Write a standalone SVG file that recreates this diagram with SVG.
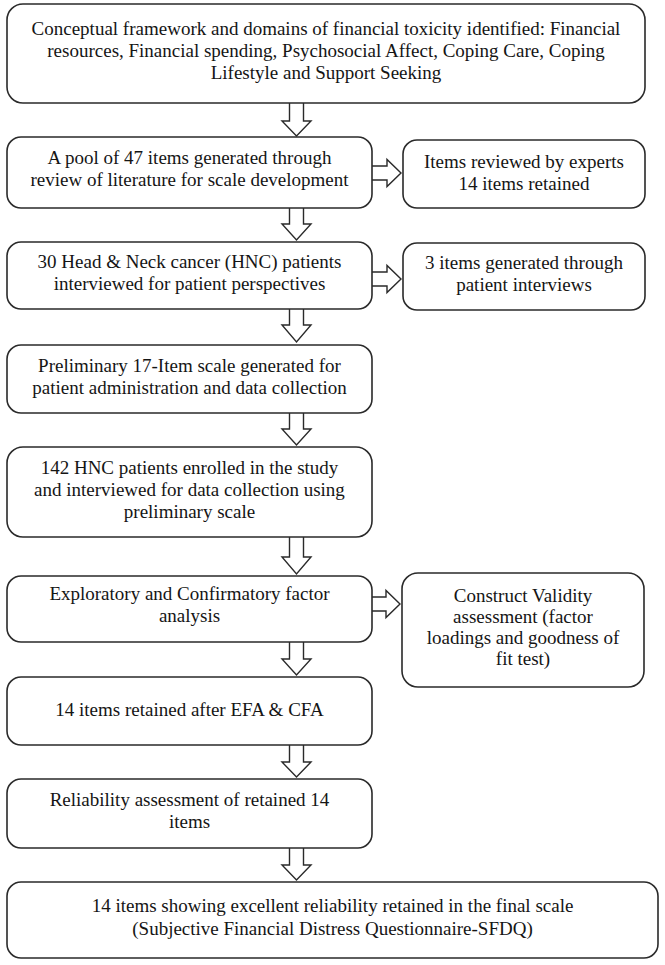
<svg xmlns="http://www.w3.org/2000/svg" width="665" height="965" viewBox="0 0 665 965">
<style>
.box{fill:#fff;stroke:#2a2a2a;stroke-width:1.6}
.arr{fill:#fff;stroke:#2a2a2a;stroke-width:1.4;stroke-linejoin:miter}
text{font-family:"Liberation Serif","Times New Roman",serif;font-size:19px;fill:#151515;text-anchor:middle}
</style>
<rect width="665" height="965" fill="#fff"/>
<g id="connectors">
<path class="arr" d="M289.5,103 V121 H282 L296.5,136 L311,121 H303.5 V103"/>
<path class="arr" d="M372,166 H387 V159.5 L401,173 L387,186.5 V180 H372"/>
<path class="arr" d="M289.5,208 V224 H282 L296.5,240 L311,224 H303.5 V208"/>
<path class="arr" d="M372,272 H387 V265.5 L401,279 L387,292.5 V286 H372"/>
<path class="arr" d="M289.5,309 V325 H282 L296.5,342 L311,325 H303.5 V309"/>
<path class="arr" d="M289.5,413 V429 H282 L296.5,445 L311,429 H303.5 V413"/>
<path class="arr" d="M289.5,537 V557 H282 L296.5,574 L311,557 H303.5 V537"/>
<path class="arr" d="M372,597 H386 V590.5 L400,604 L386,617.5 V611 H372"/>
<path class="arr" d="M289.5,642 V659 H282 L296.5,675 L311,659 H303.5 V642"/>
<path class="arr" d="M289.5,745 V762 H282 L296.5,777 L311,762 H303.5 V745"/>
<path class="arr" d="M289.5,848 V865 H282 L296.5,880 L311,865 H303.5 V848"/>
</g>
<g id="n1">
<rect class="box" x="7" y="4" width="638" height="99" rx="16"/>
<text x="326" y="35">Conceptual framework and domains of financial toxicity identified: Financial</text>
<text x="326" y="57">resources, Financial spending, Psychosocial Affect, Coping Care, Coping</text>
<text x="326" y="79">Lifestyle and Support Seeking</text>
</g>
<g id="n2">
<rect class="box" x="7" y="137" width="365" height="71" rx="14"/>
<text x="189.5" y="164">A pool of 47 items generated through</text>
<text x="189.5" y="186">review of literature for scale development</text>
</g>
<g id="n2r">
<rect class="box" x="403" y="140" width="242" height="68" rx="14"/>
<text x="524" y="167.5">Items reviewed by experts</text>
<text x="524" y="189.5">14 items retained</text>
</g>
<g id="n3">
<rect class="box" x="7" y="242" width="365" height="67" rx="14"/>
<text x="189.5" y="267.5">30 Head &amp; Neck cancer (HNC) patients</text>
<text x="189.5" y="289.5">interviewed for patient perspectives</text>
</g>
<g id="n3r">
<rect class="box" x="403" y="243" width="242" height="67" rx="14"/>
<text x="524" y="269">3 items generated through</text>
<text x="524" y="291">patient interviews</text>
</g>
<g id="n4">
<rect class="box" x="7" y="345" width="365" height="68" rx="14"/>
<text x="189.5" y="371.5">Preliminary 17-Item scale generated for</text>
<text x="189.5" y="393.5">patient administration and data collection</text>
</g>
<g id="n5">
<rect class="box" x="7" y="447" width="365" height="90" rx="16"/>
<text x="189.5" y="474">142 HNC patients enrolled in the study</text>
<text x="189.5" y="496">and interviewed for data collection using</text>
<text x="189.5" y="518">preliminary scale</text>
</g>
<g id="n6">
<rect class="box" x="7" y="576" width="365" height="66" rx="14"/>
<text x="189.5" y="600">Exploratory and Confirmatory factor</text>
<text x="189.5" y="622">analysis</text>
</g>
<g id="n6r">
<rect class="box" x="402" y="573" width="242" height="114" rx="16"/>
<text x="523" y="601.5">Construct Validity</text>
<text x="523" y="622.5">assessment (factor</text>
<text x="523" y="643.5">loadings and goodness of</text>
<text x="523" y="664.5">fit test)</text>
</g>
<g id="n7">
<rect class="box" x="7" y="677" width="365" height="68" rx="14"/>
<text x="189.5" y="716">14 items retained after EFA &amp; CFA</text>
</g>
<g id="n8">
<rect class="box" x="7" y="779" width="365" height="69" rx="14"/>
<text x="189.5" y="806">Reliability assessment of retained 14</text>
<text x="189.5" y="828">items</text>
</g>
<g id="n9">
<rect class="box" x="7" y="882" width="651" height="76" rx="14"/>
<text x="332.5" y="912">14 items showing excellent reliability retained in the final scale</text>
<text x="332.5" y="935">(Subjective Financial Distress Questionnaire-SFDQ)</text>
</g>
</svg>
